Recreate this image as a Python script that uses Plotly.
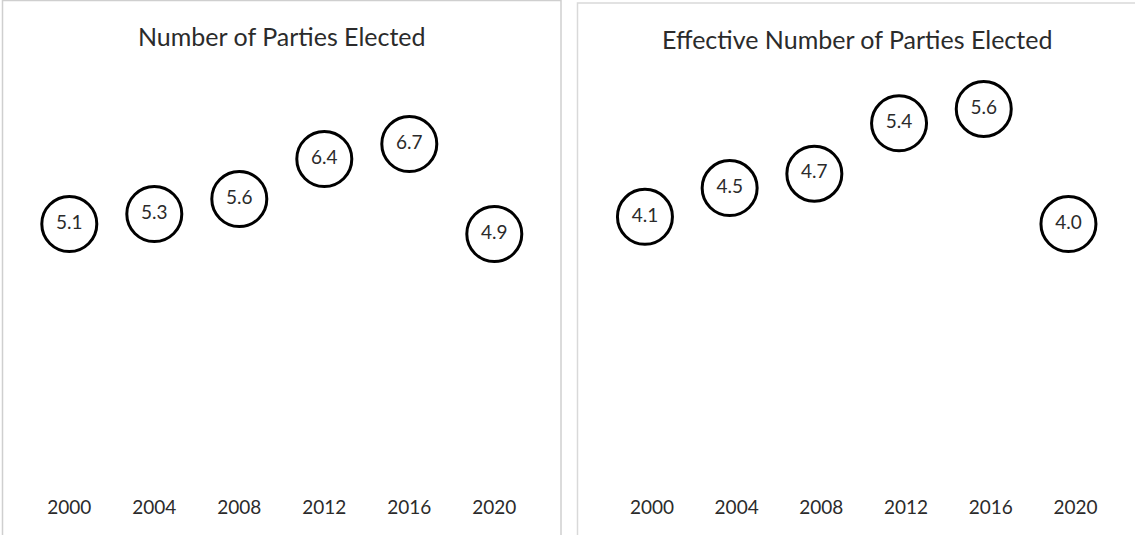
import plotly.graph_objects as go

# Election years and the two party-count measures
years = ["2000", "2004", "2008", "2012", "2016", "2020"]
parties_elected = [5.1, 5.3, 5.6, 6.4, 6.7, 4.9]
effective_parties = [4.1, 4.5, 4.7, 5.4, 5.6, 4.0]

W, H = 1135, 535
FONT = "Lato"
TEXT = "#2b2b2b"

# plot-area geometry in pixels (top / bottom of the value axes)
TOP_PX, BOT_PX = 79, 492


def px_x(a, b):
    return [a / W, b / W]


def px_y(top, bottom):
    return [1 - bottom / H, 1 - top / H]


fig = go.Figure()

marker = dict(size=55, color="white", line=dict(color="black", width=3))
textfont = dict(family=FONT, size=19, color=TEXT)

fig.add_trace(go.Scatter(
    x=years, y=parties_elected, mode="markers+text",
    texttemplate="%{y:.1f}", textposition="middle center",
    marker=marker, textfont=textfont, cliponaxis=False,
    xaxis="x", yaxis="y", hoverinfo="skip", showlegend=False,
))
fig.add_trace(go.Scatter(
    x=years, y=effective_parties, mode="markers+text",
    texttemplate="%{y:.1f}", textposition="middle center",
    marker=marker, textfont=textfont, cliponaxis=False,
    xaxis="x2", yaxis="y2", hoverinfo="skip", showlegend=False,
))

# left value axis: 50 px per party, zero at y=479 px
left_range = [(479 - BOT_PX) / 50, (479 - TOP_PX) / 50]
# right value axis: 71.9 px per party, 4.0 at y=224 px
right_range = [4.0 + (224 - BOT_PX) / 71.9, 4.0 + (224 - TOP_PX) / 71.9]

xaxis_common = dict(
    type="category", range=[-0.5, 5.5], showgrid=False, zeroline=False,
    showline=False, ticks="", ticklabelstandoff=2,
    tickfont=dict(family=FONT, size=19, color=TEXT),
    fixedrange=True,
)
yaxis_common = dict(visible=False, showgrid=False, zeroline=False, fixedrange=True)

fig.update_layout(
    width=W, height=H,
    margin=dict(l=0, r=0, t=0, b=0),
    paper_bgcolor="white", plot_bgcolor="white",
    xaxis=dict(domain=px_x(26.8, 536.8), anchor="y", **xaxis_common),
    yaxis=dict(domain=px_y(TOP_PX, BOT_PX), range=left_range, anchor="x", **yaxis_common),
    xaxis2=dict(domain=px_x(602.6, 1110.8), anchor="y2", ticklabelshift=7, **xaxis_common),
    yaxis2=dict(domain=px_y(TOP_PX, BOT_PX), range=right_range, anchor="x2", **yaxis_common),
    shapes=[
        dict(type="rect", xref="paper", yref="paper",
             x0=2.5 / W, x1=561 / W, y0=-0.05, y1=1 - 0.5 / H,
             line=dict(color="#cfcfcf", width=1.5), fillcolor="rgba(0,0,0,0)", layer="below"),
        dict(type="rect", xref="paper", yref="paper",
             x0=577.5 / W, x1=1.05, y0=-0.05, y1=1 - 3 / H,
             line=dict(color="#d9d9d9", width=1.5), fillcolor="rgba(0,0,0,0)", layer="below"),
    ],
    annotations=[
        dict(text="Number of Parties Elected", xref="paper", yref="paper",
             x=281.5 / W, y=1 - 36 / H, xanchor="center", yanchor="middle",
             showarrow=False, font=dict(family=FONT, size=25, color=TEXT)),
        dict(text="Effective Number of Parties Elected", xref="paper", yref="paper",
             x=856.5 / W, y=1 - 39 / H, xanchor="center", yanchor="middle",
             showarrow=False, font=dict(family=FONT, size=25, color=TEXT)),
    ],
)

fig.write_html("out.html")
